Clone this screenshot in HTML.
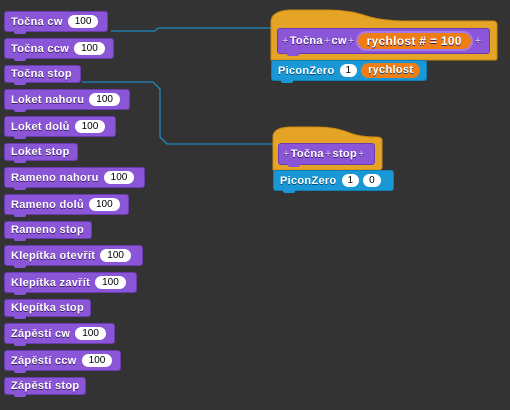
<!DOCTYPE html>
<html><head><meta charset="utf-8"><style>
body{margin:0;width:510px;height:410px;background:#333333;position:relative;overflow:hidden;font-family:"Liberation Sans",sans-serif;}
.b{position:absolute;left:4px;background:#8a55d7;border:1px solid #6a3cb0;border-radius:3px;box-sizing:border-box;color:#fff;font-weight:bold;font-size:11px;letter-spacing:0.3px;display:flex;align-items:center;padding-left:6px;text-shadow:0 1px 0 #3a2060;white-space:nowrap;}
.b::after{content:"";position:absolute;left:9px;bottom:-3px;width:12px;height:3px;background:inherit;border-radius:0 0 2px 2px;}
.i{display:inline-block;background:#fff;color:#000;font-weight:normal;text-shadow:none;border-radius:8px;padding:0 7px;height:13px;line-height:13px;font-size:10px;margin-left:5px;letter-spacing:0;}
.o{display:inline-block;background:#ee7d16;color:#fff;border-radius:9px;padding:0 9px;height:16px;line-height:16px;font-size:12px;}
.abs{position:absolute;box-sizing:border-box;}
.p{color:#d8c8f0;font-weight:normal;margin:0 1px;}
</style></head><body>
<svg class="abs" style="left:0;top:0" width="510" height="410">
<polyline points="111,31 155,31 158,28 272,28" fill="none" stroke="#1a9fe0" stroke-width="1"/>
<polyline points="82,82 153,82 160,89 160,137 167,144 274,144" fill="none" stroke="#1a9fe0" stroke-width="1"/>
<path d="M271,60 L271,22 Q271,11 290,10 L330,10 Q350,10 370,17 Q385,21 410,21 L493,21 Q497,21 497,25 L497,58 Q497,60 495,60 Z" fill="#e6a426" stroke="#c88a10"/>
<path d="M273,170 L273,137 Q273,127 292,127 L318,127 Q335,127 350,133 Q360,137 376,137 Q382,137 382,140 L382,168 L380,170 Z" fill="#e6a426" stroke="#c88a10"/>
</svg>
<div class="b" style="top:11px;width:104px;height:21px">Točna cw<span class="i">100</span></div>
<div class="b" style="top:38px;width:110px;height:21px">Točna ccw<span class="i">100</span></div>
<div class="b" style="top:65px;width:77px;height:18px">Točna stop</div>
<div class="b" style="top:89px;width:126px;height:21px">Loket nahoru<span class="i">100</span></div>
<div class="b" style="top:116px;width:112px;height:21px">Loket dolů<span class="i">100</span></div>
<div class="b" style="top:143px;width:74px;height:18px">Loket stop</div>
<div class="b" style="top:167px;width:141px;height:21px">Rameno nahoru<span class="i">100</span></div>
<div class="b" style="top:194px;width:125px;height:21px">Rameno dolů<span class="i">100</span></div>
<div class="b" style="top:221px;width:88px;height:18px">Rameno stop</div>
<div class="b" style="top:245px;width:139px;height:21px">Klepítka otevřít<span class="i">100</span></div>
<div class="b" style="top:272px;width:133px;height:21px">Klepítka zavřít<span class="i">100</span></div>
<div class="b" style="top:299px;width:87px;height:18px">Klepítka stop</div>
<div class="b" style="top:323px;width:111px;height:21px">Zápěstí cw<span class="i">100</span></div>
<div class="b" style="top:350px;width:117px;height:21px">Zápěstí ccw<span class="i">100</span></div>
<div class="b" style="top:377px;width:82px;height:18px">Zápěstí stop</div>

<div class="b" style="left:277px;top:28px;width:213px;height:26px;padding-left:3px"><span class="p">+</span>Točna<span class="p">+</span>cw<span class="p">+</span><span class="o" style="box-shadow:0 0 0 2px #a77be6;margin-left:2px">rychlost # = 100</span><span class="p" style="margin-left:4px">+</span></div>
<div class="b" style="left:271px;top:60px;width:156px;height:21px;background:#1a98d5;border-color:#1280b8;text-shadow:0 1px 0 #0a4a70">PiconZero<span class="i" style="padding:0 6px">1</span><span class="o" style="margin-left:4px;height:15px;line-height:15px;font-size:11px;padding:0 7px">rychlost</span></div>

<div class="b" style="left:278px;top:143px;width:97px;height:22px;padding-left:3px"><span class="p">+</span>Točna<span class="p">+</span>stop<span class="p">+</span></div>
<div class="b" style="left:273px;top:170px;width:121px;height:21px;background:#1a98d5;border-color:#1280b8;text-shadow:0 1px 0 #0a4a70">PiconZero<span class="i" style="padding:0 6px">1</span><span class="i" style="padding:0 6px;margin-left:4px">0</span></div>
</body></html>
